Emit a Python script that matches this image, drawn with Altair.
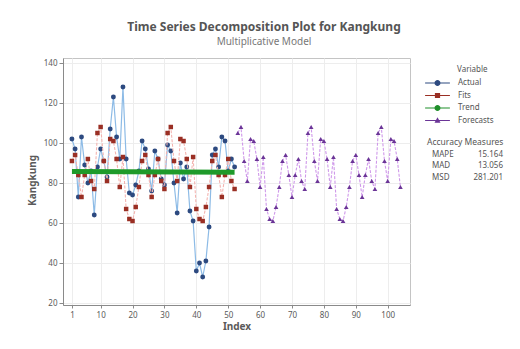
import altair as alt
import pandas as pd

# ---------------- data ----------------
series = ["Actual", "Fits", "Trend", "Forecasts"]

actual_index = list(range(1, 53))
actual = [102, 97, 73, 103, 89, 80, 86, 64, 88, 97, 91, 83, 107, 123, 103, 92, 128, 92,
          75, 74, 79, 86, 101, 97, 87, 76, 96, 92, 82, 79, 99, 96, 80, 65, 90, 82, 88,
          66, 61, 36, 40, 33, 41, 58, 94, 97, 88, 103, 101, 86, 92, 88]

fits_index = list(range(1, 53))
fits = [91, 94, 84, 73, 84, 92, 81, 77,
        105, 108, 91, 81, 102, 101, 92, 78, 93, 67, 62, 61, 68, 78, 91, 94, 84, 73, 84, 92, 81, 77,
        105, 108, 91, 81, 102, 101, 92, 78, 93, 67, 62, 61, 68, 78, 91, 94, 84, 73, 84, 92, 81, 77]

trend_index = [1, 52]
trend = [85.8, 85.4]

forecast_index = list(range(53, 105))
forecasts = [105, 108, 91, 81, 102, 101, 92, 78, 93, 67, 62, 61, 68, 78, 91, 94, 84, 73, 84, 92, 81, 77,
             105, 108, 91, 81, 102, 101, 92, 78, 93, 67, 62, 61, 68, 78, 91, 94, 84, 73, 84, 92, 81, 77,
             105, 108, 91, 81, 102, 101, 92, 78]

x_ticks = [1, 10, 20, 30, 40, 50, 60, 70, 80, 90, 100]
y_ticks = [20, 40, 60, 80, 100, 120, 140]

accuracy_labels = ["MAPE", "MAD", "MSD"]
accuracy_values = ["15.164", "13.056", "281.201"]

title_text = "Time Series Decomposition Plot for Kangkung"
subtitle_text = "Multiplicative Model"

# ---------------- styling ----------------
FONT = "Noto Sans"
point_colors = ["#2d4a80", "#9a2f24", "#1f8f2a", "#6b3597"]
line_colors = {"Actual": "#8dbbe6", "Fits": "#f4b4b0", "Trend": "#1f9a2a", "Forecasts": "#cf98ea"}

# legend symbols: short line + marker (unit square coords, 1 unit = 4px)
rect = "M-3.1,-0.15H3.1V0.15H-3.1Z"
circle = "M-0.75,0A0.75,0.75 0 1,1 0.75,0A0.75,0.75 0 1,1 -0.75,0Z"
square = "M-0.65,-0.65H0.65V0.65H-0.65Z"
triangle = "M0,-0.8L0.75,0.55H-0.75Z"
legend_shapes = [rect + circle, rect + square, rect + circle, rect + triangle]

rows = []
for i, v in zip(actual_index, actual):
    rows.append({"Index": i, "Value": v, "Series": "Actual"})
for i, v in zip(fits_index, fits):
    rows.append({"Index": i, "Value": v, "Series": "Fits"})
for i, v in zip(trend_index, trend):
    rows.append({"Index": i, "Value": v, "Series": "Trend"})
for i, v in zip(forecast_index, forecasts):
    rows.append({"Index": i, "Value": v, "Series": "Forecasts"})
df = pd.DataFrame(rows)

x_enc = alt.X("Index:Q",
              scale=alt.Scale(domain=[-1.8, 107], nice=False, zero=False),
              axis=alt.Axis(values=x_ticks, title="Index", grid=True, labelFontSize=8,
                            tickSize=3, labelPadding=3, titleFontSize=10, titleFontWeight="bold",
                            titleColor="#5a5a5a", titleY=21, titleBaseline="middle"))
y_enc = alt.Y("Value:Q",
              scale=alt.Scale(domain=[19, 142.5], nice=False, zero=False),
              axis=alt.Axis(values=y_ticks, title="Kangkung", grid=True, labelFontSize=8,
                            tickSize=4, labelPadding=2, titleFontSize=10, titleFontWeight="bold",
                            titleColor="#5a5a5a", titleX=-31, titleY=122, titleAngle=270,
                            titleAlign="center", titleBaseline="middle"))

base = alt.Chart(df).encode(x=x_enc, y=y_enc)


def series_line(name, width, dash=None):
    kw = dict(color=line_colors[name], strokeWidth=width)
    if dash:
        kw["strokeDash"] = dash
    return base.transform_filter(alt.datum.Series == name).mark_line(**kw)


def series_points(name, shape, color, size):
    return base.transform_filter(alt.datum.Series == name).mark_point(
        shape=shape, filled=True, color=color, size=size, opacity=1)


legend = alt.Legend(orient="none", legendX=370.5, legendY=21, title=None,
                    symbolSize=64, labelOffset=16.5, rowPadding=4.5, labelFontSize=8,
                    labelFont=FONT, labelColor="#555555", padding=0, symbolOpacity=1,
                    symbolStrokeWidth=0)

legend_layer = base.mark_point(filled=True, opacity=0).encode(
    color=alt.Color("Series:N", scale=alt.Scale(domain=series, range=point_colors), legend=legend),
    shape=alt.Shape("Series:N", scale=alt.Scale(domain=series, range=legend_shapes), legend=legend),
)

layers = [
    series_line("Actual", 1.2),
    series_points("Actual", "circle", point_colors[0], 24),
    series_line("Fits", 1.1, [3, 1.5]),
    series_points("Fits", "square", point_colors[1], 20),
    series_line("Trend", 5),
    series_line("Forecasts", 1.1, [3, 1.5]),
    series_points("Forecasts", "triangle-up", point_colors[3], 22),
    legend_layer,
]


def label(text, x, y, size=8, weight="normal", align="left", color="#555555"):
    return alt.Chart(pd.DataFrame({"t": [text]})).mark_text(
        align=align, baseline="middle", fontSize=size, fontWeight=weight, font=FONT, color=color
    ).encode(x=alt.value(x), y=alt.value(y), text="t:N")


texts = [
    label(title_text, 201, -31, size=12, weight="bold", align="center", color="#555555"),
    label(subtitle_text, 201, -16, size=10, align="center", color="#777777"),
    label("Variable", 394, 12),
    label("Accuracy Measures", 364, 84, size=8.5),
]
acc_y = [97, 108, 120]
for lab, val, yy in zip(accuracy_labels, accuracy_values, acc_y):
    texts.append(label(lab, 369, yy))
    texts.append(label(val, 440, yy, align="right"))

chart = alt.layer(*layers, *texts).resolve_scale(shape="shared").properties(
    width=347, height=247,
    autosize=alt.AutoSizeParams(type="none"),
    padding={"left": 55, "top": 50, "right": 102, "bottom": 36},
    background="white",
).configure_view(stroke="#c4c4c4", strokeWidth=1).configure_axis(
    labelFont=FONT, titleFont=FONT, labelColor="#5a5a5a", domainColor="#8a8a8a",
    tickColor="#8a8a8a", gridColor="#ededed", gridWidth=1,
)

chart.save("out.html", embed_options={"renderer": "svg", "actions": False})
